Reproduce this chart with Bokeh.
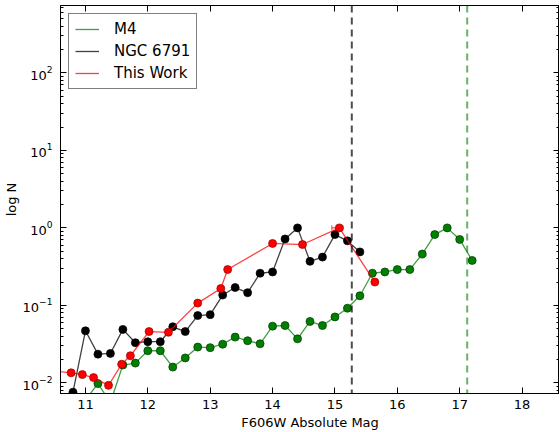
from bokeh.plotting import figure
from bokeh.models import (ColumnDataSource, Range1d, LinearAxis, Legend, LegendItem,
                          Span, Whisker, TeeHead, LogTicker, SingleIntervalTicker, CustomJSTickFormatter)
from bokeh.embed import file_html
from bokeh.resources import INLINE

# M4 luminosity function
m4_mag = [11.0, 11.2, 11.4, 11.6, 11.8, 12.0, 12.2, 12.4, 12.6, 12.8, 13.0, 13.2, 13.4, 13.6, 13.8, 14.0,
          14.2, 14.4, 14.6, 14.8, 15.0, 15.2, 15.4, 15.6, 15.8, 16.0, 16.2, 16.4, 16.6, 16.8, 17.0, 17.2]
m4_n = [0.006, 0.0098, 0.0056, 0.017, 0.018, 0.026, 0.026, 0.016, 0.021, 0.029, 0.0285, 0.0316, 0.039, 0.035,
        0.032, 0.054, 0.055, 0.037, 0.062, 0.055, 0.071, 0.092, 0.133, 0.26, 0.27, 0.29, 0.29, 0.46, 0.82, 1.0,
        0.71, 0.38]

# NGC 6791
ngc_mag = [10.8, 11.0, 11.2, 11.4, 11.6, 11.8, 12.0, 12.2, 12.4, 12.6, 12.8, 13.0, 13.2, 13.4, 13.6, 13.8,
           14.0, 14.2, 14.4, 14.6, 14.8, 15.0, 15.2, 15.4]
ngc_n = [0.0076, 0.047, 0.0235, 0.024, 0.049, 0.033, 0.034, 0.034, 0.053, 0.046, 0.074, 0.076, 0.136, 0.17,
         0.146, 0.26, 0.27, 0.72, 1.0, 0.37, 0.42, 0.82, 0.68, 0.49]

# this work
tw_mag = [10.5, 10.77, 10.95, 11.13, 11.37, 11.58, 11.72, 12.02, 12.33, 12.8, 13.17, 13.28, 14.0, 14.48,
          15.07, 15.64]
tw_n = [0.0142, 0.0135, 0.0128, 0.0117, 0.0093, 0.0174, 0.0224, 0.046, 0.045, 0.107, 0.165, 0.29, 0.63, 0.61,
        1.0, 0.20]

# horizontal error bar on the peak point
err_n = [1.0]
err_lo = [14.95]
err_hi = [15.13]

# turnoff lines
ngc_limit = 15.27
m4_limit = 17.12

FONT = "DejaVu Sans"

p = figure(width=559, height=432, y_axis_type="log",
           x_range=Range1d(10.6, 18.6), y_range=Range1d(0.0073, 740),
           output_backend="svg", toolbar_location=None,
           min_border_left=0, min_border_right=0, min_border_top=5, min_border_bottom=39)
p.background_fill_color = "white"
p.border_fill_color = "white"
p.outline_line_color = "black"
p.outline_line_width = 1
p.xgrid.visible = False
p.ygrid.visible = False

# vertical dashed limits
p.add_layout(Span(location=ngc_limit, dimension="height", line_color="black", line_alpha=0.7,
                  line_dash="7 5", line_width=2))
p.add_layout(Span(location=m4_limit, dimension="height", line_color="green", line_alpha=0.6,
                  line_dash="7 5", line_width=2))

g_line = p.line(m4_mag, m4_n, line_color="green", line_alpha=0.75, line_width=1.3)
p.scatter(m4_mag, m4_n, size=8, fill_color="green", line_color="#003300", line_width=0.7)

k_line = p.line(ngc_mag, ngc_n, line_color="black", line_alpha=0.75, line_width=1.3)
p.scatter(ngc_mag, ngc_n, size=8, fill_color="black", line_color="black", line_width=0.7)

r_line = p.line(tw_mag, tw_n, line_color="red", line_alpha=0.75, line_width=1.3)
p.scatter(tw_mag, tw_n, size=8, fill_color="red", line_color="#990000", line_width=0.7)

err_src = ColumnDataSource(dict(n=err_n, lo=err_lo, hi=err_hi))
p.add_layout(Whisker(source=err_src, base="n", lower="lo", upper="hi", dimension="width",
                     line_color="red", line_alpha=0.75, line_width=1.2,
                     lower_head=TeeHead(size=5, line_color="red", line_alpha=0.75),
                     upper_head=TeeHead(size=5, line_color="red", line_alpha=0.75)))

# axes, matplotlib-like inward ticks
p.xaxis.ticker = SingleIntervalTicker(interval=1, num_minor_ticks=0)
p.yaxis.ticker = LogTicker(num_minor_ticks=10)
for ax in [p.xaxis[0], p.yaxis[0]]:
    ax.major_tick_in = 6
    ax.major_tick_out = 0
    ax.minor_tick_in = 3
    ax.minor_tick_out = 0
    ax.axis_line_color = "black"
    ax.major_tick_line_color = "black"
    ax.minor_tick_line_color = "black"
    ax.major_label_text_font = FONT
    ax.major_label_text_font_size = "13px"
    ax.major_label_text_color = "black"
    ax.axis_label_text_font = FONT
    ax.axis_label_text_font_size = "13px"
    ax.axis_label_text_font_style = "normal"
    ax.axis_label_text_color = "black"
p.xaxis.minor_tick_line_color = None
p.xaxis.axis_label = "F606W Absolute Mag"
p.xaxis.major_label_standoff = 6
p.xaxis.axis_label_standoff = 3
p.yaxis.axis_label = "log N"
p.yaxis.major_label_standoff = 8
p.yaxis.axis_label_standoff = 1

# tick marks on the top and right spines, no labels
blank = CustomJSTickFormatter(code="return ''")
top_ax = LinearAxis(ticker=SingleIntervalTicker(interval=1, num_minor_ticks=0), formatter=blank)
right_ax = LinearAxis(ticker=LogTicker(num_minor_ticks=10), formatter=blank)
for ax in [top_ax, right_ax]:
    ax.major_tick_in = 6
    ax.major_tick_out = 0
    ax.minor_tick_in = 3
    ax.minor_tick_out = 0
    ax.major_label_standoff = 0
    ax.axis_line_color = "black"
    ax.major_tick_line_color = "black"
    ax.minor_tick_line_color = "black"
top_ax.minor_tick_line_color = None
p.add_layout(top_ax, "above")
p.add_layout(right_ax, "right")

legend = Legend(items=[LegendItem(label="M4", renderers=[g_line]),
                       LegendItem(label="NGC 6791", renderers=[k_line]),
                       LegendItem(label="This Work", renderers=[r_line])],
                location="top_left", margin=8, padding=6, spacing=4,
                label_text_font=FONT, label_text_font_size="15px", label_text_color="black",
                glyph_width=24, glyph_height=18, label_height=18, label_standoff=15,
                border_line_color="black", border_line_width=1, background_fill_alpha=1)
p.add_layout(legend)

open("out.html", "w").write(file_html(p, INLINE))
